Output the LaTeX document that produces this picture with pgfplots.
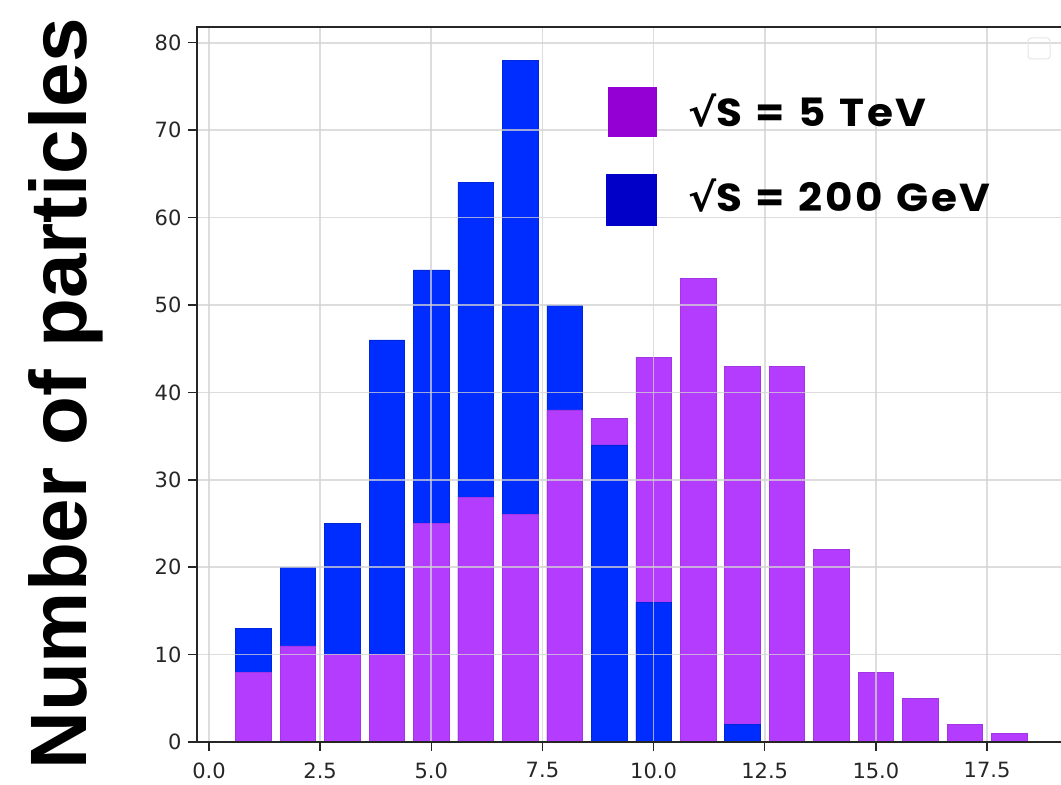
\documentclass[border=0pt]{standalone}
\usepackage{pgfplots}
\pgfplotsset{compat=1.18}
\usepackage{fontspec}
\setmainfont{DejaVu Sans}
\newfontfamily\pop{Poppins}[LetterSpace=6]
\newfontfamily\lib{Liberation Sans}
\newfontfamily\dju{DejaVu Sans}
\definecolor{barpurple}{RGB}{180,60,255}
\definecolor{barblue}{RGB}{0,45,255}
\definecolor{legpurple}{RGB}{148,0,211}
\definecolor{legblue}{RGB}{0,0,200}
\definecolor{gridc}{RGB}{210,210,210}
\begin{document}
\begin{tikzpicture}[x=1pt,y=1pt]
\begin{axis}[
  at={(197pt,43pt)}, anchor=south west,
  scale only axis, width=869.6pt, height=715pt,
  xmin=-0.27, xmax=19.29, ymin=0, ymax=81.8,
  xtick={0,2.5,5,7.5,10,12.5,15,17.5},
  xticklabels={0.0,2.5,5.0,7.5,10.0,12.5,15.0,17.5},
  ytick={0,10,20,30,40,50,60,70,80},
  yticklabels={0,10,20,30,40,50,60,70,80},
  xtick pos=bottom, ytick pos=left,
  grid=major,
  major grid style={color=gridc, line width=1.6pt, opacity=0.75},
  axis on top,
  axis line style={line width=1.8pt, color=black!85},
  tick align=outside, major tick length=9pt,
  every tick/.style={line width=1.5pt, color=black!85},
  tick label style={font=\fontsize{21}{21}\selectfont, color=black!85},
  xticklabel style={yshift=-8pt},
  yticklabel style={xshift=-3pt},
  ybar, bar width=0.8,
]
\addplot[bar shift=0pt, fill=barblue, draw=barblue!85!black, line width=0.6pt]
  coordinates {(1,13) (2,20) (3,25) (4,46) (5,54) (6,64) (7,78) (8,50)};
\addplot[bar shift=0pt, fill=barpurple, draw=barpurple!90!black, line width=0.6pt]
  coordinates {(1,8) (2,11) (3,10) (4,10) (5,25) (6,28) (7,26) (8,38) (9,37)
               (10,44) (11,53) (12,43) (13,43) (14,22) (15,8) (16,5) (17,2) (18,1)};
\addplot[bar shift=0pt, fill=barblue, draw=barblue!85!black, line width=0.6pt]
  coordinates {(9,34) (10,16) (12,2)};
\end{axis}
\node[rotate=90, anchor=base, inner sep=0pt] at (86pt,391pt)
  {\lib\bfseries\fontsize{80}{80}\selectfont Number of particles};
\fill[legpurple] (608pt,648pt) rectangle (657pt,698pt);
\fill[legblue] (606pt,559pt) rectangle (657pt,611pt);
\node[anchor=base west, inner sep=0pt, xscale=1.08] at (688pt,658pt)
  {\fontsize{39}{39}\selectfont{\dju\bfseries\char"221A}{\pop\bfseries S\hspace{2pt} =\hspace{2pt} 5\hspace{2pt} TeV}};
\node[anchor=base west, inner sep=0pt, xscale=1.08] at (688pt,573pt)
  {\fontsize{39}{39}\selectfont{\dju\bfseries\char"221A}{\pop\bfseries S\hspace{2pt} =\hspace{2pt} 200\hspace{2pt} GeV}};
\draw[black!10, rounded corners=3pt, line width=1pt] (1028pt,726pt) rectangle (1050pt,747pt);
\pgfresetboundingbox
\useasboundingbox (0,0) rectangle (1061pt,785pt);
\end{tikzpicture}
\end{document}
